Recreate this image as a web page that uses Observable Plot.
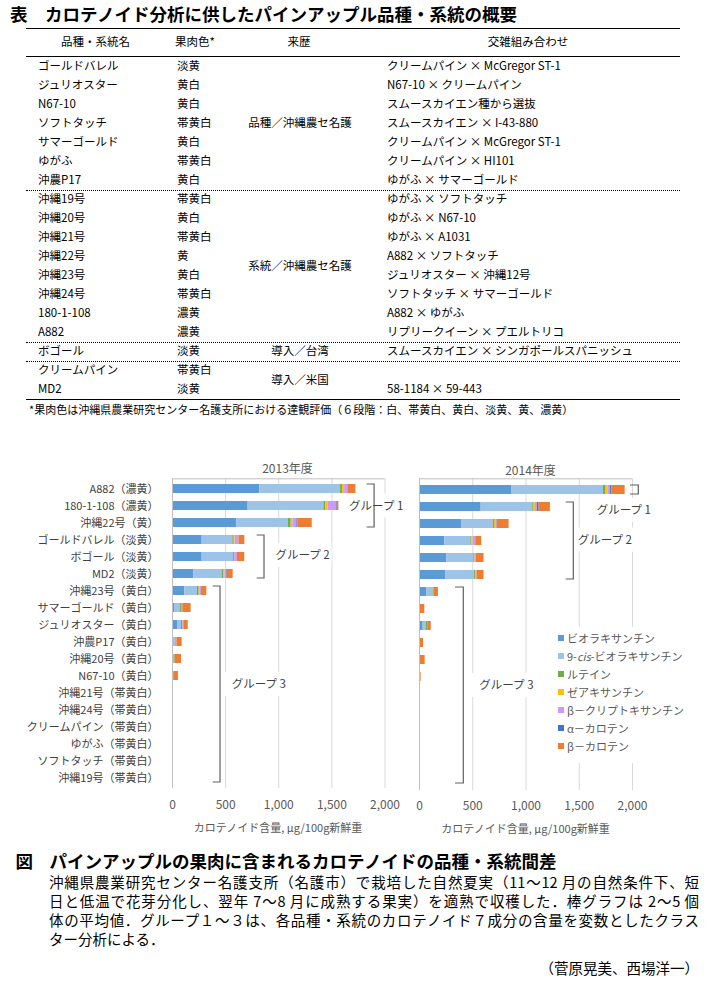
<!DOCTYPE html>
<html><head><meta charset="utf-8">
<script src="https://cdn.jsdelivr.net/npm/d3@7"></script>
<script src="https://cdn.jsdelivr.net/npm/@observablehq/plot@0.6"></script>
<style>
body{margin:0;background:#fff;}
#page{position:relative;width:705px;height:981px;overflow:hidden;font-family:"Noto Sans CJK JP","Noto Sans",sans-serif;color:#000;background:#fff;}
.a{position:absolute;white-space:nowrap;line-height:1;}
.just{position:absolute;white-space:nowrap;line-height:1;text-align:justify;text-align-last:justify;}
</style></head><body><div id="page"></div>
<script>
// ---------------- Table data ----------------
const tableTitle = "カロテノイド分析に供したパインアップル品種・系統の概要";
const tableHeaders = ["品種・系統名", "果肉色*", "来歴", "交雑組み合わせ"];
const tableNames = ["ゴールドバレル","ジュリオスター","N67-10","ソフトタッチ","サマーゴールド","ゆがふ","沖農P17",
  "沖縄19号","沖縄20号","沖縄21号","沖縄22号","沖縄23号","沖縄24号","180-1-108","A882",
  "ボゴール","クリームパイン","MD2"];
const tableFlesh = ["淡黄","黄白","黄白","帯黄白","黄白","帯黄白","黄白",
  "帯黄白","黄白","帯黄白","黄","黄白","帯黄白","濃黄","濃黄",
  "淡黄","帯黄白","淡黄"];
const tableCross = ["クリームパイン × McGregor ST-1","N67-10 × クリームパイン","スムースカイエン種から選抜",
  "スムースカイエン × I-43-880","クリームパイン × McGregor ST-1","クリームパイン × HI101","ゆがふ × サマーゴールド",
  "ゆがふ × ソフトタッチ","ゆがふ × N67-10","ゆがふ × A1031","A882 × ソフトタッチ","ジュリオスター × 沖縄12号",
  "ソフトタッチ × サマーゴールド","A882 × ゆがふ","リプリークイーン × プエルトリコ",
  "スムースカイエン × シンガポールスパニッシュ","","58-1184 × 59-443"];
const originLabels = ["品種／沖縄農セ名護","系統／沖縄農セ名護","導入／台湾","導入／米国"];
const originGroupOf = [0,0,0,0,0,0,0, 1,1,1,1,1,1,1,1, 2, 3,3];
const tableNote = "*果肉色は沖縄県農業研究センター名護支所における達観評価（６段階：白、帯黄白、黄白、淡黄、黄、濃黄）";

// ---------------- Chart data ----------------
const chartNames = ["A882","180-1-108","沖縄22号","ゴールドバレル","ボゴール","MD2","沖縄23号","サマーゴールド",
  "ジュリオスター","沖農P17","沖縄20号","N67-10","沖縄21号","沖縄24号","クリームパイン","ゆがふ","ソフトタッチ","沖縄19号"];
const components = ["ビオラキサンチン","9-cis-ビオラキサンチン","ルテイン","ゼアキサンチン","β－クリプトキサンチン","α－カロテン","β－カロテン"];
const componentColors = ["#5B9BD5","#9DC3E6","#70AD47","#FFC000","#CC99FF","#4472C4","#ED7D31"];
const xTicks = [0, 500, 1000, 1500, 2000];
const chartTitles = ["2013年度", "2014年度"];
const xAxisTitle = "カロテノイド含量, μg/100g新鮮重";

const violaxanthin2013      = [822, 712, 606, 279, 279, 201, 116, 19, 47, 6, 6, 0, 0, 0, 0, 0, 0, 0];
const cisViolaxanthin2013   = [760, 713, 486, 289, 295, 267, 119, 56, 38, 22, 13, 3, 0, 0, 0, 0, 0, 0];
const lutein2013            = [19, 19, 25, 13, 9, 16, 16, 9, 13, 0, 6, 9, 0, 0, 0, 0, 0, 0];
const zeaxanthin2013        = [19, 22, 16, 9, 3, 9, 9, 0, 0, 0, 0, 0, 0, 0, 0, 0, 0, 0];
const betaCryptoxanthin2013 = [31, 75, 38, 35, 25, 16, 16, 13, 9, 13, 0, 0, 0, 0, 0, 0, 0, 0];
const alphaCarotene2013     = [3, 9, 9, 0, 0, 6, 6, 0, 0, 0, 0, 0, 0, 0, 0, 0, 0, 0];
const betaCarotene2013      = [72, 16, 135, 56, 69, 56, 41, 78, 41, 50, 60, 44, 0, 0, 0, 0, 0, 0];

const violaxanthin2014      = [864, 579, 394, 238, 257, 244, 70, 0, 34, 0, 0, 0, 0, 0, 0, 0, 0, 0];
const cisViolaxanthin2014   = [864, 485, 301, 244, 253, 272, 58, 0, 32, 0, 0, 0, 0, 0, 0, 0, 0, 0];
const lutein2014            = [19, 12, 9, 9, 9, 9, 8, 0, 12, 0, 0, 0, 0, 0, 0, 0, 0, 0];
const zeaxanthin2014        = [25, 12, 12, 12, 3, 3, 0, 0, 0, 0, 0, 0, 0, 0, 0, 0, 0, 0];
const betaCryptoxanthin2014 = [22, 19, 12, 25, 12, 12, 0, 0, 0, 0, 0, 0, 0, 0, 0, 0, 0, 0];
const alphaCarotene2014     = [12, 16, 3, 0, 0, 0, 0, 0, 0, 0, 0, 0, 0, 0, 0, 0, 0, 0];
const betaCarotene2014      = [125, 106, 110, 56, 72, 66, 42, 50, 32, 38, 53, 15, 0, 0, 0, 0, 0, 0];

const groupLabels = ["グループ 1", "グループ 2", "グループ 3"];

// ---------------- Caption ----------------
const figTitle = "パインアップルの果肉に含まれるカロテノイドの品種・系統間差";
const figBody = [
  "沖縄県農業研究センター名護支所（名護市）で栽培した自然夏実（11～12 月の自然条件下、短",
  "日と低温で花芽分化し、翌年 7～8 月に成熟する果実）を適熟で収穫した．棒グラフは 2～5 個",
  "体の平均値．グループ１～３は、各品種・系統のカロテノイド７成分の含量を変数としたクラス",
  "ター分析による．"
];
const figAuthors = "（菅原晃美、西場洋一）";

// ================= Layout helpers =================
const FONT = "'Noto Sans CJK JP','Noto Sans',sans-serif";
const page = document.getElementById("page");
function put(text, x, y, o = {}) {
  const d = document.createElement("div");
  d.className = "a";
  d.textContent = text;
  d.style.left = x + "px"; d.style.top = y + "px";
  d.style.fontSize = (o.size || 11.5) + "px";
  d.style.fontWeight = o.weight || 400;
  d.style.color = o.color || "#000";
  const tx = o.anchor === "middle" ? "-50%" : o.anchor === "end" ? "-100%" : "0";
  d.style.transform = `translate(${tx},-50%)`;
  page.appendChild(d);
  return d;
}
function hline(x1, x2, y, border, w = 1) {
  const d = document.createElement("div");
  d.style.cssText = `position:absolute;left:${x1}px;top:${y - w / 2}px;width:${x2 - x1}px;height:0;border-top:${border};`;
  page.appendChild(d);
}

// ================= Table =================
put("表", 10, 13.5, {size: 17.5, weight: 700});
put(tableTitle, 45, 13.5, {size: 17.5, weight: 700});
const tL = 26, tR = 680;
hline(tL, tR, 28.3, "1.5px solid #000", 1.5);
const headerX = [95.5, 195, 299, 528];
tableHeaders.forEach((h, i) => put(h, headerX[i], 41.5, {anchor: "middle"}));
hline(tL, tR, 56.7, "1.5px solid #000", 1.5);
const row0 = 65.6, rowStep = 19.05;
const rowY = i => row0 + rowStep * i;
tableNames.forEach((n, i) => {
  const y = rowY(i);
  put(n, 38, y);
  put(tableFlesh[i], 177, y);
  if (tableCross[i]) put(tableCross[i], 387, y);
  if (i > 0 && originGroupOf[i] !== originGroupOf[i - 1]) hline(tL, tR, y - rowStep / 2 + 0.8, "1px dotted #000", 1);
});
originLabels.forEach((lab, g) => {
  const rows = tableNames.map((_, i) => i).filter(i => originGroupOf[i] === g);
  put(lab, 300, d3.mean(rows, rowY), {anchor: "middle"});
});
hline(tL, tR, rowY(tableNames.length - 1) + 10, "1.5px solid #000", 1.5);
put(tableNote, 29, 408.5, {size: 11});

// ================= Charts =================
const flesh = new Map(tableNames.map((n, i) => [n, tableFlesh[i]]));
const chartLabels = chartNames.map(n => `${n}（${flesh.get(n)}）`);

function tidy(series) {
  const out = [];
  chartNames.forEach((n, i) => series.forEach((s, k) => out.push({name: n, component: components[k], value: s[i]})));
  return out;
}
const data2013 = tidy([violaxanthin2013, cisViolaxanthin2013, lutein2013, zeaxanthin2013, betaCryptoxanthin2013, alphaCarotene2013, betaCarotene2013]);
const data2014 = tidy([violaxanthin2014, cisViolaxanthin2014, lutein2014, zeaxanthin2014, betaCryptoxanthin2014, alphaCarotene2014, betaCarotene2014]);

// annotation layout (data units on x, row index on y)
const notes2013 = [
  {label: groupLabels[0], first: 0, last: 2, bracketAt: 1902, tickTo: 1832, textAt: 1667, textRow: 1.0, padL: 8, padR: 8},
  {label: groupLabels[1], first: 3, last: 5, bracketAt: 866, tickTo: 797, textAt: 974, textRow: 3.9, padL: 4, padR: 1},
  {label: groupLabels[2], first: 6, last: 17, bracketAt: 452, tickTo: 383, textAt: 562, textRow: 11.5, padL: 9, padR: 9}
];
const notes2014 = [
  {label: groupLabels[0], first: 0, last: 0, bracketAt: 2059, tickTo: 1981, textAt: 1669, textRow: 1.2, padL: 9, padR: 9},
  {label: groupLabels[1], first: 1, last: 5, bracketAt: 1449, tickTo: 1377, textAt: 1490, textRow: 2.95, padL: 8, padR: 8},
  {label: groupLabels[2], first: 6, last: 17, bracketAt: 416, tickTo: 338, textAt: 566, textRow: 11.5, padL: 9, padR: 9}
];

const measureCtx = document.createElement("canvas").getContext("2d");
function textWidth(s, size) { measureCtx.font = `${size}px ${FONT}`; return measureCtx.measureText(s).width; }

function annotations(notes) {
  return function (...args) {
    let scales, dims;
    for (const a of args) {
      if (a && typeof a.x === "function" && typeof a.y === "function") scales = a;
      if (a && a.marginTop !== undefined && a.height !== undefined) dims = a;
    }
    const {x, y} = scales;
    const bw = y.bandwidth(), step = y.step();
    const c0 = y(y.domain()[0]) + bw / 2;
    const ry = r => c0 + r * step;
    const g = d3.create("svg:g").attr("text-anchor", "start");
    // top frame line
    g.append("line").attr("x1", x(xTicks[0])).attr("x2", x(xTicks[xTicks.length - 1]))
      .attr("y1", dims.marginTop + 0.5).attr("y2", dims.marginTop + 0.5).attr("stroke", "#bfbfbf");
    const fs = 11.5;
    for (const n of notes) {
      const w = textWidth(n.label, fs);
      const lx = x(n.textAt), ly = ry(n.textRow);
      g.append("rect").attr("x", lx - n.padL).attr("y", ly - 12).attr("width", w + n.padL + n.padR).attr("height", 24).attr("fill", "#fff");
    }
    for (const n of notes) {
      const top = ry(n.first) - bw / 2, bottom = ry(n.last) + bw / 2;
      const bx = x(n.bracketAt), tx = x(n.tickTo);
      g.append("path").attr("d", `M${tx},${top}H${bx}V${bottom}H${tx}`)
        .attr("fill", "none").attr("stroke", "#606060").attr("stroke-width", 1.2);
      g.append("text").attr("x", x(n.textAt)).attr("y", ry(n.textRow)).attr("dy", "0.36em")
        .attr("text-anchor", "start").style("text-anchor", "start")
        .attr("font-size", fs).attr("fill", "#404040").text(n.label);
    }
    return g.node();
  };
}

function chart(data, yDomain, showY, notes, o) {
  const svg = Plot.plot({
    width: o.width, height: 385,
    marginLeft: o.ml, marginRight: o.mr, marginTop: 23.3, marginBottom: o.mb,
    style: {fontFamily: FONT, fontSize: "12px", color: "#595959", background: "transparent", overflow: "visible"},
    x: {domain: [xTicks[0], xTicks[xTicks.length - 1]], ticks: xTicks, tickFormat: d3.format(","), tickSize: 0, tickPadding: o.tp, label: null},
    y: {domain: yDomain, tickSize: 0, tickPadding: 14, paddingInner: 0.48, paddingOuter: 0.24, align: 0.5, label: null, axis: showY ? "left" : null},
    color: {domain: components, range: componentColors},
    marks: [
      Plot.ruleX(xTicks.slice(1), {stroke: "#d9d9d9"}),
      Plot.barX(data, Plot.stackX({x: "value", y: o.yKey, fill: "component"})),
      Plot.ruleX([xTicks[0]], {stroke: "#bfbfbf"}),
      annotations(notes)
    ]
  });
  svg.querySelectorAll('[aria-label^="y-axis"] text').forEach(t => { t.style.fontSize = "11px"; t.setAttribute("fill", "#404040"); });
  const holder = document.createElement("div");
  holder.style.cssText = `position:absolute;left:${o.left}px;top:455px;`;
  holder.appendChild(svg);
  page.appendChild(holder);
}

data2013.forEach(d => d.label = `${d.name}（${flesh.get(d.name)}）`);
chart(data2013, chartLabels, true, notes2013, {width: 400, ml: 172, mr: 15.5, mb: 52, tp: 12, left: 0, yKey: "label"});
chart(data2014, chartNames, false, notes2014, {width: 305, ml: 19, mr: 73, mb: 50, tp: 11, left: 400, yKey: "name"});

put(chartTitles[0], 287.5, 468.3, {size: 12, color: "#595959", anchor: "middle"});
put(chartTitles[1], 530.5, 470, {size: 12, color: "#595959", anchor: "middle"});
put(xAxisTitle, 278, 826.5, {size: 11, color: "#595959", anchor: "middle"});
put(xAxisTitle, 525.5, 828, {size: 11, color: "#595959", anchor: "middle"});

// legend (overlay box inside 2014 chart)
const lg = document.createElement("div");
lg.style.cssText = "position:absolute;left:553px;top:627px;width:134px;height:136px;background:#fff;";
page.appendChild(lg);
components.forEach((c, k) => {
  const y = 638.3 + 18 * k;
  const sw = document.createElement("div");
  sw.style.cssText = `position:absolute;left:557.5px;top:${y - 3}px;width:6px;height:6px;background:${componentColors[k]};`;
  page.appendChild(sw);
  const t = put("", 567, y, {size: 11, color: "#595959"});
  const parts = c.split("cis");
  parts.forEach((p, j) => {
    t.appendChild(document.createTextNode(p));
    if (j < parts.length - 1) { const it = document.createElement("i"); it.textContent = "cis"; t.appendChild(it); }
  });
});

// ================= Caption =================
put("図", 15.5, 860.7, {size: 17.5, weight: 700});
put(figTitle, 49.5, 860.7, {size: 17.5, weight: 700});
figBody.forEach((line, i) => {
  const d = document.createElement("div");
  d.className = i < figBody.length - 1 ? "just" : "a";
  d.textContent = line;
  d.style.left = "49px"; d.style.top = (882 + 19 * i) + "px";
  if (i < figBody.length - 1) d.style.width = "650px";
  d.style.fontSize = "14.5px";
  d.style.transform = "translate(0,-50%)";
  page.appendChild(d);
});
put(figAuthors, 699, 967.5, {size: 14.5, anchor: "end"});
</script></body></html>
